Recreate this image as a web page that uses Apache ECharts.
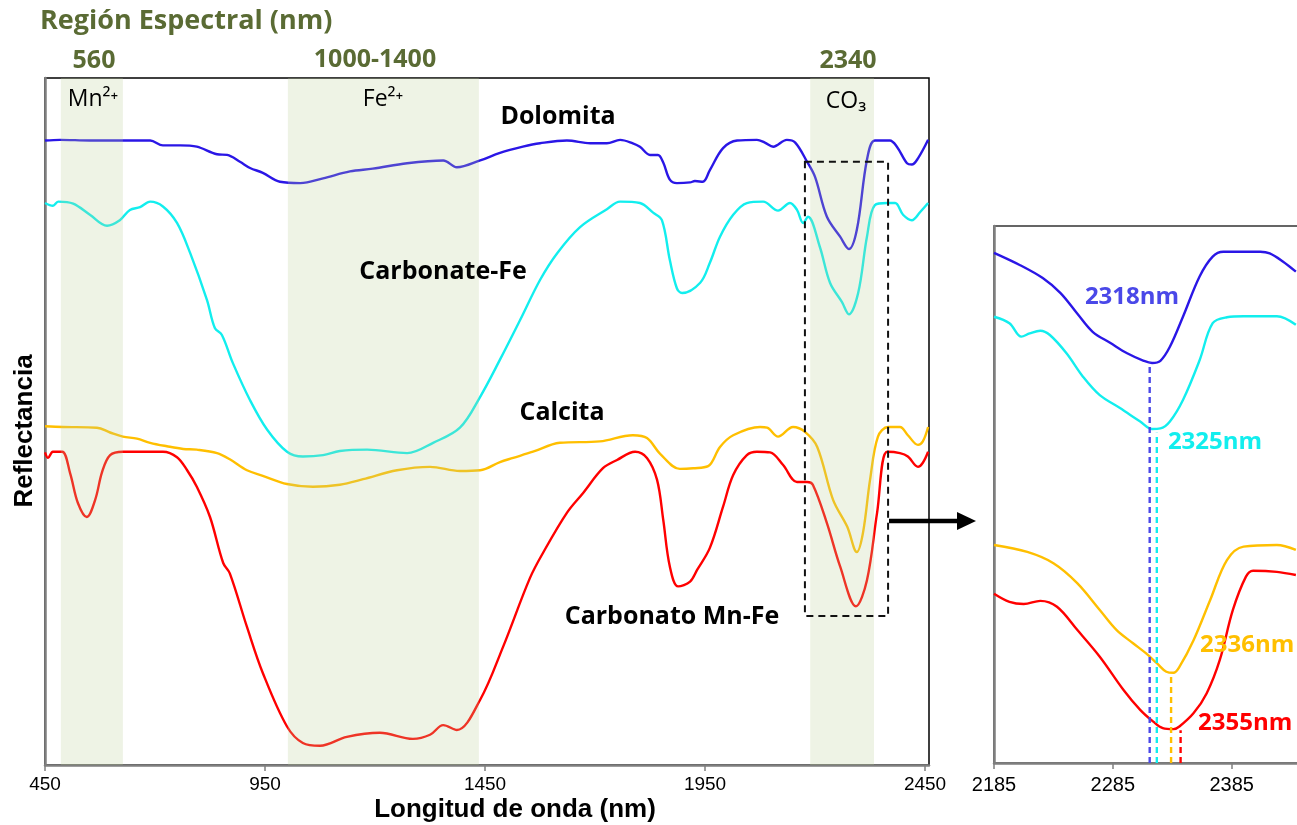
<!DOCTYPE html>
<html><head><meta charset="utf-8">
<script src="https://cdn.jsdelivr.net/npm/echarts@6/dist/echarts.min.js"></script>
<style>html,body{margin:0;padding:0;background:#fff}#c{width:1297px;height:825px}</style>
</head><body><div id="c"></div>
<script>
// ---------- main chart data (wavelength nm, relative reflectance) ----------
const xTicks = [450, 950, 1450, 1950, 2450];
const insetTicks = [2185, 2285, 2385];

const dolomitaX = [450,484,552,643,689,718,757,795,841,864,893,916,945,984,1030,1082,1143,1195,1273,1355,1386,1439,1484,1536,1575,1636,1689,1727,1757,1786,1802,1825,1843,1855,1870,1886,1916,1927,1945,1961,1991,2023,2068,2086,2105,2136,2155,2182,2200,2227,2257,2277,2295,2318,2336,2370,2386,2409,2420,2434,2457];
const dolomitaY = [90.9,91.0,90.9,90.9,90.9,90.2,90.2,90.0,88.9,88.8,87.8,86.9,86.2,84.9,84.7,85.4,86.4,86.8,87.6,88.0,87.0,88.0,89.1,90.0,90.5,90.9,90.5,90.5,91.0,90.5,90.0,88.8,88.8,87.7,85.2,84.7,84.8,85.0,84.9,86.6,89.8,90.9,91.0,90.6,90.0,91.0,90.6,87.8,85.6,79.8,76.9,75.1,77.9,88.1,90.9,90.9,90.0,87.6,87.4,88.3,91.0];

const carbFeX = [450,468,480,514,552,591,620,643,666,689,718,750,780,818,836,852,877,916,955,1000,1036,1082,1120,1182,1273,1332,1393,1439,1484,1530,1575,1614,1666,1727,1757,1802,1832,1852,1870,1886,1898,1939,1961,1984,2014,2045,2082,2116,2143,2159,2173,2184,2211,2234,2261,2277,2298,2318,2336,2364,2382,2400,2420,2439,2457];
const carbFeY = [81.8,81.4,82.0,81.7,80.1,78.5,79.3,80.8,81.2,82.0,81.3,78.9,74.5,67.7,63.6,62.6,58.5,53.1,48.8,45.6,44.9,45.1,45.7,45.9,45.4,46.9,49.1,53.6,59.0,64.8,70.6,74.5,78.3,80.9,82.0,81.8,80.4,79.3,73.5,69.4,68.7,70.2,73.1,76.9,80.1,81.8,82.0,80.7,81.8,80.8,78.9,79.8,75.4,70.2,67.4,65.6,68.7,76.9,81.5,81.8,81.8,80.1,79.3,80.5,81.8];

const calcitaX = [450,491,568,598,627,659,689,727,764,795,841,870,909,945,1000,1059,1120,1173,1250,1325,1393,1439,1484,1514,1559,1620,1711,1786,1818,1848,1893,1923,1957,1984,2014,2075,2091,2116,2150,2177,2205,2241,2273,2295,2309,2325,2343,2366,2393,2411,2434,2445,2457];
const calcitaY = [49.3,49.2,49.1,48.4,47.8,47.5,46.9,46.4,46.0,45.9,45.4,44.5,42.9,42.1,40.9,40.5,40.8,41.6,42.9,43.4,42.8,42.9,44.1,44.7,45.6,46.9,47.1,48.0,47.6,45.3,43.1,43.2,43.5,46.3,48.0,49.2,49.1,47.8,49.2,48.5,46.3,38.6,34.7,31.0,33.8,41.5,47.8,49.2,49.2,48.0,46.6,47.1,49.2];

const mnFeX = [450,457,468,489,507,525,545,564,580,598,627,718,750,773,795,825,855,870,909,945,1000,1036,1075,1136,1211,1286,1325,1355,1386,1439,1491,1552,1582,1636,1673,1718,1750,1791,1818,1841,1855,1870,1889,1916,1932,1961,1991,2014,2045,2068,2098,2127,2159,2182,2195,2227,2257,2293,2318,2341,2364,2393,2411,2434,2445,2457];
const mnFeY = [45.5,44.7,45.6,45.6,42.5,38.1,36.1,38.6,42.7,45.1,45.6,45.6,44.8,42.9,40.5,36.1,29.4,27.9,20.1,13.4,5.6,3.2,2.8,4.1,4.7,3.8,4.4,5.8,5.1,9.5,17.2,27.2,30.9,36.7,39.6,43.2,44.4,45.6,44.7,41.5,35.7,28.9,26.0,26.7,28.4,31.6,37.6,42.2,45.1,45.6,45.5,43.7,41.2,41.2,40.8,35.2,28.9,23.1,26.9,36.7,45.6,45.4,44.9,43.4,44.0,45.6];

// spectral regions (nm)
const bandStart = [486, 1002, 2189];
const bandEnd = [627, 1436, 2334];
// zoom box (nm, reflectance)
const boxX = [2177, 2366];
const boxY = [21.7, 87.8];

// ---------- inset data ----------
const inDolX = [2185,2207,2226,2241,2255,2268,2283,2297,2311,2318,2325,2333,2344,2358,2369,2378,2409,2417,2428,2439];
const inDolY = [95.0,92.7,90.3,87.5,83.7,80.3,78.2,76.3,74.9,74.5,74.9,77.5,83.1,90.6,94.3,95.2,95.2,94.9,93.4,91.5];
const inFeX = [2185,2198,2208,2215,2224,2232,2246,2260,2274,2291,2308,2318,2325,2333,2344,2358,2369,2381,2395,2423,2439];
const inFeY = [83.1,81.9,79.4,80.0,80.5,79.7,76.3,71.9,68.5,66.1,63.6,62.2,62.3,63.6,67.6,75.0,81.9,83.0,83.2,83.2,81.6];
const inCalX = [2185,2213,2235,2255,2274,2288,2302,2313,2322,2330,2336,2341,2353,2367,2381,2395,2423,2439];
const inCalY = [40.6,39.3,37.2,33.5,28.5,24.8,22.3,20.4,18.6,17.0,16.8,17.9,22.9,30.4,37.8,40.3,40.6,39.7];
const inMnX = [2185,2198,2210,2224,2238,2255,2274,2294,2308,2319,2327,2336,2341,2353,2364,2375,2386,2397,2403,2423,2439];
const inMnY = [31.5,30.0,29.6,30.2,29.1,24.8,19.8,13.6,9.9,7.7,6.5,6.3,6.8,9.3,13.0,19.2,28.5,34.7,35.8,35.6,35.0];

const peakX = [2316, 2322, 2334, 2342];
const peakTop = [74.6, 61.5, 16.1, 6.1];
const peakLabels = ['2318nm', '2325nm', '2336nm', '2355nm'];

// ---------- build ----------
const C = {blue:'#2a16e6', cyan:'#12eeee', orange:'#ffbf00', red:'#ff0000', peakBlue:'#4a48e8'};
const OLIVE = '#5a6b34';
const pair = (xs, ys) => xs.map((x, i) => [x, ys[i]]);
const lineS = (data, color, xi, w) => ({
  type:'line', xAxisIndex:xi, yAxisIndex:xi, data, symbol:'none', smooth:0.35,
  lineStyle:{color, width:w}, z:3, silent:true, animation:false
});

const series = [
  lineS(pair(dolomitaX, dolomitaY), C.blue, 0, 2.4),
  lineS(pair(carbFeX, carbFeY), C.cyan, 0, 2.4),
  lineS(pair(calcitaX, calcitaY), C.orange, 0, 2.4),
  lineS(pair(mnFeX, mnFeY), C.red, 0, 2.4),
  {
    type:'custom', xAxisIndex:0, yAxisIndex:0, z:10, silent:true, animation:false,
    data: bandStart.map((s, i) => [s, bandEnd[i]]),
    encode:{x:[0,1]},
    renderItem:(p, api) => {
      const a = api.coord([api.value(0), 100]);
      const b = api.coord([api.value(1), 0]);
      return {type:'rect', shape:{x:a[0], y:a[1], width:b[0]-a[0], height:b[1]-a[1]},
        style:{fill:'rgba(188,208,150,0.25)'}};
    }
  },
  {
    type:'custom', xAxisIndex:0, yAxisIndex:0, z:11, silent:true, animation:false,
    data: [[boxX[0], boxX[1], boxY[0], boxY[1]]],
    encode:{x:[0,1], y:[2,3]},
    renderItem:(p, api) => {
      const a = api.coord([api.value(0), api.value(3)]);
      const b = api.coord([api.value(1), api.value(2)]);
      return {type:'rect', shape:{x:a[0], y:a[1], width:b[0]-a[0], height:b[1]-a[1]},
        style:{fill:'none', stroke:'#111', lineWidth:2, lineDash:[7,5]}};
    }
  },
  lineS(pair(inDolX, inDolY), C.blue, 1, 2.4),
  lineS(pair(inFeX, inFeY), C.cyan, 1, 2.4),
  lineS(pair(inCalX, inCalY), C.orange, 1, 2.4),
  lineS(pair(inMnX, inMnY), C.red, 1, 2.4)
];
const peakColors = [C.peakBlue, C.cyan, C.orange, C.red];
peakX.forEach((x, i) => {
  series.push({
    type:'line', xAxisIndex:1, yAxisIndex:1, data:[[x, 0], [x, peakTop[i]]], symbol:'none',
    lineStyle:{color:peakColors[i], width:2.4, type:[6,4]}, z:4, silent:true, animation:false
  });
});

const txt = (text, x, y, font, fill, align, extra) => Object.assign({
  type:'text', x, y, silent:true, z:20,
  style:{text, font, fill, align: align || 'center', verticalAlign:'middle'}
}, extra || {});
const OS = '"Open Sans", Lato, sans-serif';
const LBL = 'bold 25px ' + OS;
const AX = '"Liberation Sans", Arial, sans-serif';
const graphic = [
  txt('Región Espectral (nm)', 40, 21, 'bold 27px ' + OS, OLIVE, 'left'),
  txt('560', 94, 61, 'bold 25px ' + OS, OLIVE),
  txt('1000-1400', 375, 60, 'bold 25px ' + OS, OLIVE),
  txt('2340', 848, 61, 'bold 25px ' + OS, OLIVE),
  txt('Mn²⁺', 93, 99, '23px ' + OS, '#000'),
  txt('Fe²⁺', 383, 99, '23px ' + OS, '#000'),
  txt('CO₃', 846, 101, '23px ' + OS, '#000'),
  txt('Dolomita', 558, 117, LBL, '#000'),
  txt('Carbonate-Fe', 443, 272, LBL, '#000'),
  txt('Calcita', 562, 413, LBL, '#000'),
  txt('Carbonato Mn-Fe', 672, 617, LBL, '#000'),
  txt('Reflectancia', 25, 431, 'bold 26px ' + AX, '#000', 'center', {rotation: Math.PI/2}),
  txt('Longitud de onda (nm)', 515, 810, 'bold 26px ' + AX, '#000'),
  txt(peakLabels[0], 1132, 297, 'bold 24px ' + OS, C.peakBlue),
  txt(peakLabels[1], 1215, 442, 'bold 24px ' + OS, C.cyan),
  txt(peakLabels[2], 1200, 645, 'bold 24px ' + OS, C.orange, 'left'),
  txt(peakLabels[3], 1198, 723, 'bold 24px ' + OS, C.red, 'left'),
  {type:'line', silent:true, z:20, shape:{x1:889, y1:521, x2:960, y2:521}, style:{stroke:'#000', lineWidth:4.5}},
  {type:'polygon', silent:true, z:20, shape:{points:[[957,512],[976,521],[957,530]]}, style:{fill:'#000'}}
];

const axisFont = {fontFamily:AX, color:'#000', formatter:(v) => String(v)};
const option = {
  animation:false,
  backgroundColor:'#fff',
  grid:[
    {left:45, top:78, width:884, height:687, show:true, borderColor:'#000', borderWidth:1.5, outerBoundsMode:'none', containLabel:false},
    {left:994, top:226, width:309, height:537, show:true, borderColor:'#333', borderWidth:1.5, outerBoundsMode:'none', containLabel:false}
  ],
  xAxis:[
    {type:'value', gridIndex:0, min:450, max:2459,
     axisLine:{show:true, lineStyle:{color:'#7f7f7f', width:2.5}},
     axisTick:{show:true, customValues:xTicks, length:6, lineStyle:{color:'#7f7f7f', width:1.5}},
     axisLabel:{show:true, customValues:xTicks, fontSize:19, margin:10, ...axisFont},
     splitLine:{show:false}},
    {type:'value', gridIndex:1, min:2185, max:2445,
     axisLine:{show:true, lineStyle:{color:'#7f7f7f', width:2.5}},
     axisTick:{show:true, customValues:insetTicks, length:6, lineStyle:{color:'#7f7f7f', width:1.5}},
     axisLabel:{show:true, customValues:insetTicks, fontSize:20, margin:12, ...axisFont},
     splitLine:{show:false}}
  ],
  yAxis:[
    {type:'value', gridIndex:0, min:0, max:100, axisLine:{show:true, lineStyle:{color:'#7f7f7f', width:2.5}},
     axisTick:{show:false}, axisLabel:{show:false}, splitLine:{show:false}},
    {type:'value', gridIndex:1, min:0, max:100, axisLine:{show:true, lineStyle:{color:'#7f7f7f', width:2.5}},
     axisTick:{show:false}, axisLabel:{show:false}, splitLine:{show:false}}
  ],
  series,
  graphic
};
const chart = echarts.init(document.getElementById('c'));
chart.setOption(option);
</script>
</body></html>
